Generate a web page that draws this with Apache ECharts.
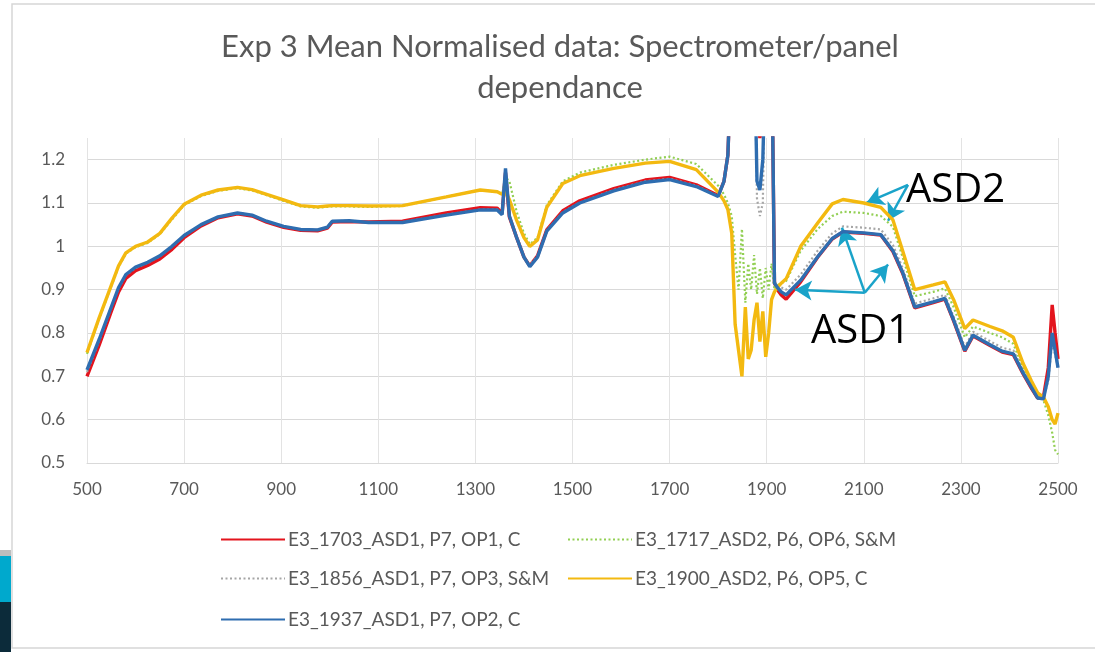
<!DOCTYPE html>
<html>
<head>
<meta charset="utf-8">
<script src="https://cdn.jsdelivr.net/npm/echarts@6/dist/echarts.min.js"></script>
<style>
html,body{margin:0;padding:0;background:#fff;}
#chart{width:1095px;height:652px;}
</style>
</head>
<body>
<div id="chart"></div>
<script>
// ---- DATA ----
const titleText = 'Exp 3 Mean Normalised data: Spectrometer/panel\ndependance';
const xTicks = [500, 700, 900, 1100, 1300, 1500, 1700, 1900, 2100, 2300, 2500];
const yTicks = [0.5, 0.6, 0.7, 0.8, 0.9, 1, 1.1, 1.2];
const seriesNames = [
  'E3_1703_ASD1, P7, OP1, C',
  'E3_1717_ASD2, P6, OP6, S&M',
  'E3_1856_ASD1, P7, OP3, S&M',
  'E3_1900_ASD2, P6, OP5, C',
  'E3_1937_ASD1, P7, OP2, C'
];
const wavelengths = [500,525,550,565,580,600,625,650,675,700,
  735,770,810,840,870,905,940,975,995,1005,
  1040,1080,1150,1240,1310,1345,1355,1362,1370,1385,
  1400,1412,1428,1447,1480,1515,1585,1650,1700,1755,
  1800,1812,1820,1828,1835,1842,1849,1856,1862,1868,
  1874,1880,1886,1892,1898,1904,1910,1916,1922,1930,
  1940,1970,2005,2035,2057,2100,2135,2160,2180,2205,
  2243,2267,2285,2308,2325,2360,2385,2408,2428,2445,
  2458,2470,2480,2488,2494,2500];
const e3_1703 = [0.70,0.772,0.85,0.895,0.926,0.944,0.956,0.971,0.993,1.02,
  1.047,1.066,1.075,1.07,1.056,1.044,1.037,1.036,1.042,1.056,
  1.057,1.056,1.058,1.077,1.089,1.088,1.076,1.17,1.068,1.02,
  0.975,0.955,0.978,1.038,1.082,1.105,1.133,1.153,1.159,1.142,
  1.117,1.15,1.21,1.45,1.5,1.5,1.5,1.5,1.5,1.5,
  1.5,1.3,1.25,1.3,1.5,1.5,1.5,0.915,0.9,0.888,
  0.878,0.918,0.975,1.017,1.033,1.03,1.026,0.988,0.938,0.858,
  0.87,0.878,0.828,0.758,0.793,0.771,0.756,0.75,0.706,0.673,
  0.65,0.652,0.72,0.865,0.8,0.74];
const e3_1717 = [0.752,0.833,0.908,0.953,0.983,0.998,1.008,1.028,1.062,1.095,
  1.116,1.128,1.134,1.129,1.118,1.105,1.092,1.089,1.091,1.092,
  1.092,1.091,1.093,1.114,1.13,1.126,1.12,1.16,1.15,1.08,
  1.03,1.005,1.02,1.095,1.15,1.17,1.188,1.2,1.207,1.19,
  1.14,1.12,1.1,1.07,0.98,0.90,1.04,0.87,0.96,0.90,
  0.98,0.89,0.95,0.88,0.95,0.90,0.96,0.90,0.91,0.915,
  0.92,0.99,1.04,1.07,1.08,1.077,1.07,1.045,0.975,0.885,
  0.895,0.903,0.86,0.79,0.815,0.8,0.79,0.775,0.72,0.68,
  0.655,0.645,0.61,0.57,0.53,0.52];
const e3_1856 = [0.71,0.782,0.858,0.903,0.933,0.95,0.962,0.977,0.999,1.024,
  1.05,1.068,1.077,1.072,1.058,1.046,1.039,1.038,1.044,1.058,
  1.059,1.055,1.056,1.073,1.085,1.085,1.074,1.175,1.07,1.022,
  0.978,0.957,0.978,1.037,1.079,1.101,1.13,1.15,1.156,1.14,
  1.116,1.15,1.21,1.45,1.5,1.5,1.5,1.5,1.5,1.5,
  1.5,1.11,1.07,1.1,1.5,1.5,1.5,0.92,0.91,0.905,
  0.9,0.935,0.99,1.03,1.046,1.043,1.039,1.003,0.95,0.868,
  0.88,0.888,0.838,0.768,0.803,0.781,0.766,0.76,0.714,0.68,
  0.653,0.65,0.69,0.78,0.75,0.72];
const e3_1900 = [0.755,0.835,0.91,0.955,0.985,1.0,1.01,1.03,1.065,1.097,
  1.118,1.13,1.136,1.131,1.12,1.107,1.094,1.091,1.093,1.094,
  1.094,1.093,1.094,1.114,1.13,1.126,1.12,1.125,1.108,1.06,
  1.02,1.0,1.015,1.09,1.145,1.163,1.18,1.192,1.196,1.177,
  1.125,1.105,1.085,1.03,0.82,0.76,0.70,0.86,0.74,0.76,
  0.83,0.87,0.78,0.85,0.745,0.80,0.877,0.895,0.905,0.915,
  0.925,1.0,1.054,1.098,1.108,1.1,1.09,1.061,0.99,0.9,
  0.911,0.918,0.877,0.81,0.83,0.815,0.805,0.79,0.73,0.69,
  0.662,0.652,0.63,0.6,0.59,0.615];
const e3_1937 = [0.715,0.785,0.86,0.905,0.935,0.952,0.963,0.978,1.0,1.025,
  1.05,1.068,1.077,1.072,1.058,1.046,1.039,1.038,1.044,1.058,
  1.059,1.055,1.055,1.072,1.084,1.084,1.073,1.18,1.07,1.02,
  0.975,0.953,0.975,1.035,1.077,1.1,1.128,1.148,1.154,1.138,
  1.115,1.15,1.21,1.45,1.5,1.5,1.5,1.5,1.5,1.5,
  1.5,1.15,1.13,1.2,1.45,1.5,1.5,0.915,0.905,0.895,
  0.888,0.922,0.976,1.018,1.034,1.031,1.027,0.99,0.94,0.86,
  0.872,0.88,0.83,0.76,0.795,0.773,0.758,0.752,0.708,0.675,
  0.65,0.648,0.7,0.8,0.76,0.72];
// annotation arrows in data units: [fromX, fromY, toX, toY]
const asd2Arrows = [[2191, 1.142, 2106, 1.101], [2191, 1.142, 2150, 1.059]];
const asd1Arrows = [[2102, 0.893, 1958, 0.900], [2102, 0.893, 2055, 1.043], [2102, 0.893, 2150, 0.958]];

// ---- CHART ----
const FONT = 'Lato, "Open Sans", sans-serif';
const TXT = '#595959';
const colors = ['#e3141d', '#92cf53', '#a6a6a6', '#f3b910', '#2e6db0'];
const dashed = [false, true, true, false, false];
const allValues = [e3_1703, e3_1717, e3_1856, e3_1900, e3_1937];

function pairs(vals){ return wavelengths.map((w,i)=>[w, vals[i]]); }
function arrowData(list){
  return list.map(a => [{coord:[a[0],a[1]]},{coord:[a[2],a[3]]}]);
}

const series = seriesNames.map((name, i) => ({
  name: name,
  type: 'line',
  data: pairs(allValues[i]),
  symbol: 'none',
  smooth: false,
  clip: true,
  silent: true,
  z: 2 + i,
  lineStyle: dashed[i]
    ? {color: colors[i], width: 2.2, type: [2, 2.5]}
    : {color: colors[i], width: 3.4},
  itemStyle: {color: colors[i]}
}));

// arrows as markLines on a helper series
series.push({
  name: '__arrows', type: 'line', data: [], symbol: 'none', silent: true, z: 20,
  markLine: {
    silent: true,
    symbol: ['none', 'arrow'],
    symbolSize: [15, 17],
    label: {show: false},
    lineStyle: {color: '#1aa3c9', width: 2.5, type: 'solid'},
    emphasis: {disabled: true},
    data: arrowData(asd2Arrows).concat(arrowData(asd1Arrows))
  }
});

const legendPos = [
  {left: 220, top: 530},
  {left: 567, top: 530},
  {left: 220, top: 569},
  {left: 567, top: 569},
  {left: 220, top: 610}
];
const legends = seriesNames.map((name, i) => ({
  data: [name],
  left: legendPos[i].left,
  top: legendPos[i].top,
  padding: 0,
  itemWidth: 64,
  itemHeight: 14,
  itemGap: 4,
  selectedMode: false,
  itemStyle: {opacity: 0},
  textStyle: {color: TXT, fontSize: 19, fontFamily: FONT, padding: [0,0,0,-2]}
}));

const option = {
  animation: false,
  backgroundColor: '#ffffff',
  color: colors,
  title: {
    text: titleText,
    left: 555,
    top: 21,
    textAlign: 'center',
    textStyle: {color: TXT, fontSize: 31, fontWeight: 'normal', fontFamily: FONT, lineHeight: 41}
  },
  legend: legends,
  grid: {left: 87, right: 37, top: 138, bottom: 189, containLabel: false},
  xAxis: {
    type: 'value', min: xTicks[0], max: xTicks[xTicks.length-1], interval: 200,
    axisLine: {show: true, lineStyle: {color: '#d9d9d9', width: 1}},
    axisTick: {show: false},
    axisLabel: {color: TXT, fontSize: 17, fontFamily: FONT, margin: 18,
      formatter: v => xTicks.indexOf(v) >= 0 ? String(v) : ''},
    splitLine: {show: true, lineStyle: {color: '#e3e3e3', width: 1}}
  },
  yAxis: {
    type: 'value', min: 0.5, max: 1.25, interval: 0.1,
    axisLine: {show: false},
    axisTick: {show: false},
    axisLabel: {color: TXT, fontSize: 17, fontFamily: FONT, margin: 22, showMaxLabel: false,
      formatter: v => { const r = Math.round(v*10)/10; return yTicks.indexOf(r) >= 0 && Math.abs(r - v) < 1e-6 ? String(r) : ''; }},
    splitLine: {show: true, showMaxLine: false, lineStyle: {color: '#d9d9d9', width: 1}}
  },
  graphic: [
    {type: 'rect', shape: {x: 12, y: 4, width: 1090, height: 644}, style: {fill: 'none', stroke: '#d6d6d6', lineWidth: 1.5}, z: -10, silent: true},
    {type: 'rect', shape: {x: 0, y: 550, width: 11, height: 6}, style: {fill: '#bdbdbd'}, silent: true},
    {type: 'rect', shape: {x: 0, y: 556, width: 11, height: 46}, style: {fill: '#00a9cd'}, silent: true},
    {type: 'rect', shape: {x: 0, y: 602, width: 11, height: 50}, style: {fill: '#0c2b3a'}, silent: true},
    {type: 'text', left: 906, top: 171, z: 30, silent: true, style: {text: 'ASD2', fill: '#000', font: '40px "Open Sans", sans-serif'}},
    {type: 'text', left: 811, top: 312, z: 30, silent: true, style: {text: 'ASD1', fill: '#000', font: '40px "Open Sans", sans-serif'}}
  ],
  series: series
};

const chart = echarts.init(document.getElementById('chart'), null, {renderer: 'canvas'});
chart.setOption(option);
</script>
</body>
</html>
